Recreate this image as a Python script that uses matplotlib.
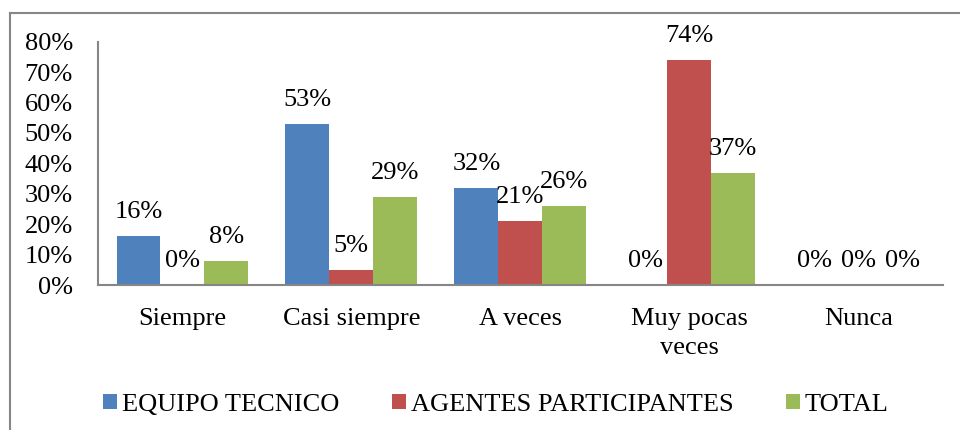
import matplotlib.pyplot as plt
import numpy as np
from matplotlib.lines import Line2D

categories = ["Siempre", "Casi siempre", "A veces", "Muy pocas\nveces", "Nunca"]
series_names = ["EQUIPO TECNICO", "AGENTES PARTICIPANTES", "TOTAL"]
equipo = [0.16, 0.53, 0.32, 0.00, 0.00]
agentes = [0.00, 0.05, 0.21, 0.74, 0.00]
total = [0.08, 0.29, 0.26, 0.37, 0.00]
colors = ["#4F81BD", "#C0504D", "#9BBB59"]
yticks = [0.0, 0.1, 0.2, 0.3, 0.4, 0.5, 0.6, 0.7, 0.8]

plt.rcParams["font.family"] = ["Liberation Serif", "DejaVu Serif"]
fs = 19

fig = plt.figure(figsize=(9.6, 4.3), dpi=100)
ax = fig.add_axes([0.102, 0.337, 0.88, 0.566])

x = np.arange(len(categories))
width = 0.26
for i, (vals, name) in enumerate(zip([equipo, agentes, total], series_names)):
    pos = x + (i - 1) * width
    ax.bar(pos, vals, width, color=colors[i], label=name)
    for xp, v in zip(pos, vals):
        ax.annotate(f"{v * 100:.0f}%", (xp, v), xytext=(0, 24),
                    textcoords="offset pixels", ha="center", va="center",
                    fontsize=fs)

ax.set_xlim(-0.5, len(categories) - 0.5)
ax.set_ylim(0, 0.8)
ax.set_yticks(yticks)
ax.set_yticklabels([f"{t * 100:.0f}%" for t in yticks], fontsize=fs)
ax.set_xticks(x)
ax.set_xticklabels(categories, fontsize=fs, linespacing=1.4)
ax.tick_params(axis="both", length=0)
ax.tick_params(axis="y", pad=18)
ax.tick_params(axis="x", pad=16.5)

for side in ["top", "right"]:
    ax.spines[side].set_visible(False)
for side in ["left", "bottom"]:
    ax.spines[side].set_color("#868686")
    ax.spines[side].set_linewidth(1.5)

ax.legend(loc="center", bbox_to_anchor=(0.5167, 1 - 405 / 430),
          bbox_transform=fig.transFigure, ncol=3, frameon=False,
          fontsize=fs, handlelength=0.52, handleheight=0.5,
          handletextpad=0.19, columnspacing=2.0)

# chart border (top and left edges visible)
fig.add_artist(Line2D([10 / 960, 1.0], [1 - 12.5 / 430, 1 - 12.5 / 430],
                      transform=fig.transFigure, color="#868686", lw=1.5))
fig.add_artist(Line2D([10 / 960, 10 / 960], [0.0, 1 - 12.5 / 430],
                      transform=fig.transFigure, color="#868686", lw=1.5))

fig.savefig("out.png", dpi=100)
